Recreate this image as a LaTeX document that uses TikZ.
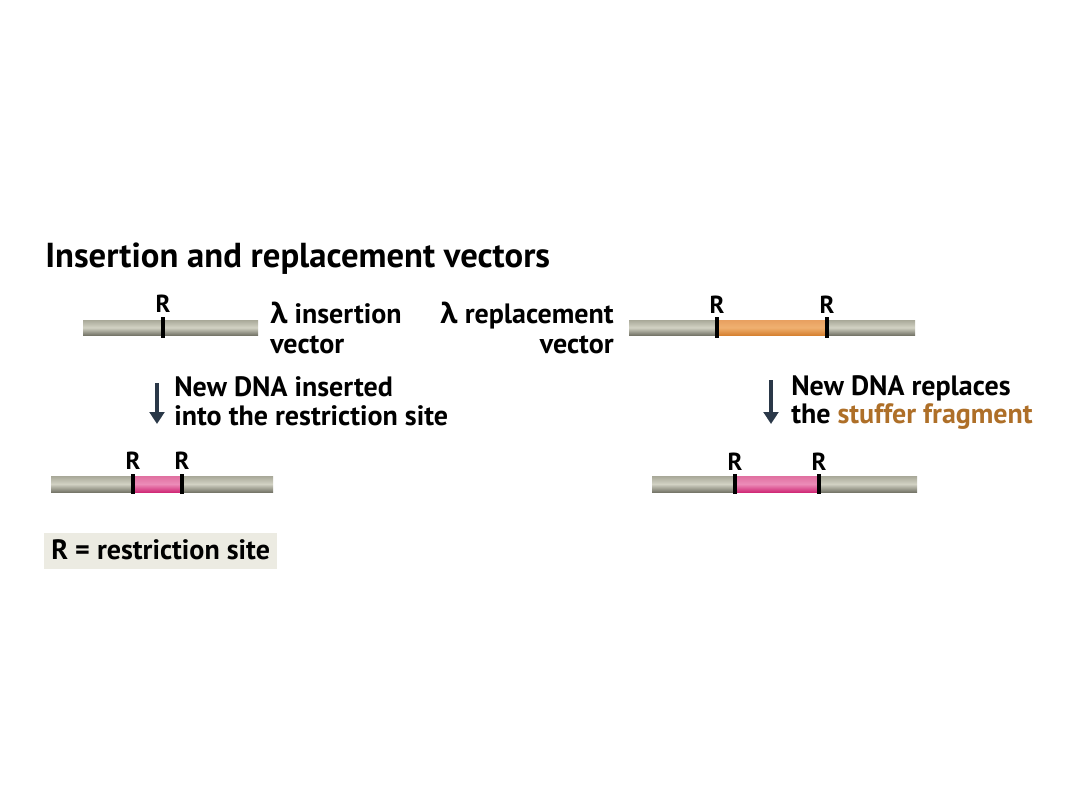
\documentclass[tikz,border=0pt]{standalone}
\usepackage{fontspec}
\setmainfont{PT Sans}
\newfontfamily\grk{Open Sans}
\definecolor{barmid}{HTML}{D2D2C4}
\definecolor{bartop}{HTML}{A8A898}
\definecolor{barbot}{HTML}{77776A}
\definecolor{ormid}{HTML}{F0B070}
\definecolor{ortop}{HTML}{E8A060}
\definecolor{orbot}{HTML}{D68232}
\definecolor{pkmid}{HTML}{EC8CB8}
\definecolor{pktop}{HTML}{E070A0}
\definecolor{pkbot}{HTML}{D02C78}
\definecolor{stuff}{HTML}{AE6F28}
\definecolor{arrowc}{HTML}{2A3848}
\definecolor{legbg}{HTML}{ECEBE2}
\tikzset{
  graybar/.style={top color=bartop, bottom color=barbot, middle color=barmid, draw=none},
  orangebar/.style={top color=ortop, bottom color=orbot, middle color=ormid, draw=none},
  pinkbar/.style={top color=pktop, bottom color=pkbot, middle color=pkmid, draw=none},
  site/.style={line width=2.5pt, black},
  rlab/.style={font=\bfseries\fontsize{18.5}{20}\selectfont, anchor=base, inner sep=0pt},
  body/.style={font=\bfseries\fontsize{21}{24}\selectfont, inner sep=0pt},
  downarrow/.style={arrowc, line width=3pt, -{Triangle[width=11pt,length=9pt]}},
}
\usetikzlibrary{arrows.meta}
\begin{document}
\begin{tikzpicture}[x=0.75pt,y=-0.75pt]
\useasboundingbox[fill=white] (0,0) rectangle (1080,810);
% title
\node[anchor=base west, inner sep=0pt, font=\bfseries\fontsize{26}{30}\selectfont] (title) at (45,267) {Insertion and replacement vectors};
% insertion vector
\path[graybar] (83,320) rectangle (258,335);
\draw[site] (163,317) -- (163,338);
\node[rlab] (ri1) at (163,312) {R};
\node[body, anchor=base west] (inslab) at (270,323) {{\grk λ} insertion};
\node[body, anchor=base west] (inslab2) at (270,353) {vector};
% replacement vector
\path[graybar] (629,320) rectangle (717,335);
\path[orangebar] (717,320) rectangle (827,335);
\path[graybar] (827,320) rectangle (915,335);
\draw[site] (717,317) -- (717,338);
\draw[site] (827,317) -- (827,338);
\node[rlab] (rr1) at (717,313) {R};
\node[rlab] (rr2) at (827,313) {R};
\node[body, anchor=base east] (replab) at (614,323) {{\grk λ} replacement};
\node[body, anchor=base east] (replab2) at (614,353) {vector};
% arrows
\coordinate (a1s) at (157,383);
\coordinate (a1e) at (157,424);
\draw[downarrow] (a1s) -- (a1e);
\coordinate (a2s) at (771,380);
\coordinate (a2e) at (771,424);
\draw[downarrow] (a2s) -- (a2e);
\node[body, anchor=base west] (t1) at (174,396) {New DNA inserted};
\node[body, anchor=base west] (t2) at (174,425) {into the restriction site};
\node[body, anchor=base west] (t3) at (791,395) {New DNA replaces};
\node[body, anchor=base west] (t4) at (791,423) {the \textcolor{stuff}{stuffer fragment}};
% inserted result
\path[graybar] (51,476) rectangle (133,492);
\path[pinkbar] (133,476) rectangle (182,492);
\path[graybar] (182,476) rectangle (273,492);
\draw[site] (133,474) -- (133,494);
\draw[site] (182,474) -- (182,494);
\node[rlab] (ri2) at (133,469) {R};
\node[rlab] (ri3) at (182,469) {R};
% replaced result
\path[graybar] (652,476) rectangle (735,492);
\path[pinkbar] (735,476) rectangle (819,492);
\path[graybar] (819,476) rectangle (917,492);
\draw[site] (735,474) -- (735,494);
\draw[site] (819,474) -- (819,494);
\node[rlab] (rr3) at (735,470) {R};
\node[rlab] (rr4) at (819,470) {R};
% legend
\path[fill=legbg] (44,533) rectangle (277,569);
\node[body, anchor=base west] (leg) at (51,559) {R = restriction site};
\end{tikzpicture}
\end{document}
